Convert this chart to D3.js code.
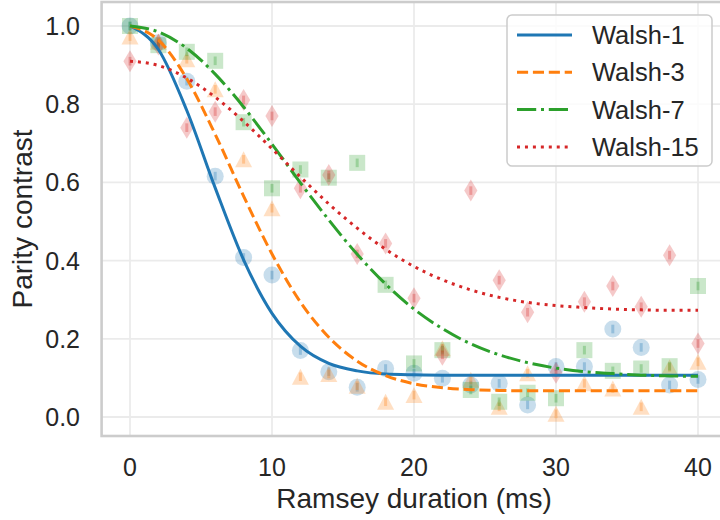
<!doctype html>
<html>
<head>
    <meta charset="utf-8">
    <title>Parity contrast vs Ramsey duration</title>
    <style>
        body {
            margin: 0;
            background: #FFFFFF;
        }

        svg text {
            font-family: "Liberation Sans", Arial, sans-serif;
            fill: #262626;
        }

        .grid line {
            stroke: #EBEBEB;
            stroke-width: 1.8;
        }

        .spine {
            fill: none;
            stroke: #CCCCCC;
            stroke-width: 2.6;
        }
    </style>
</head>
<body>
    <div id="chart"></div>

    <script src="https://cdn.jsdelivr.net/npm/d3@7"></script>
    <script>
        // measured points, one per 2 ms
        var times = [0, 2, 4, 6, 8, 10, 12, 14, 16, 18, 20, 22, 24, 26, 28, 30, 32, 34, 36, 38, 40];

        var walsh1 = [1.000, 0.957, 0.859, 0.616, 0.408, 0.363, 0.170, 0.116, 0.076, 0.124, 0.112,
            0.099, 0.082, 0.086, 0.031, 0.129, 0.129, 0.225, 0.178, 0.082, 0.096];
        var walsh3 = [0.973, 0.960, 0.915, 0.838, 0.659, 0.534, 0.103, 0.110, 0.080, 0.039, 0.056,
            0.176, 0.095, 0.026, 0.112, 0.008, 0.086, 0.073, 0.026, 0.127, 0.141];
        var walsh7 = [1.000, 0.951, 0.934, 0.911, 0.754, 0.585, 0.633, 0.612, 0.650, 0.338, 0.137,
            0.171, 0.069, 0.039, 0.062, 0.048, 0.171, 0.118, 0.124, 0.130, 0.335];
        var walsh15 = [0.910, 0.953, 0.740, 0.781, 0.811, 0.770, 0.585, 0.619, 0.417, 0.444, 0.304,
            0.159, 0.579, 0.350, 0.268, 0.113, 0.295, 0.335, 0.282, 0.414, 0.188];

        var y_err = 0.011;

        // fitted decay curves at the same times
        var fit1 = [1.000, 0.940, 0.784, 0.586, 0.402, 0.265, 0.181, 0.137, 0.118, 0.110, 0.108,
            0.107, 0.107, 0.107, 0.107, 0.107, 0.107, 0.107, 0.107, 0.107, 0.107];
        var fit3 = [1.000, 0.964, 0.865, 0.723, 0.565, 0.417, 0.294, 0.204, 0.143, 0.106, 0.085,
            0.075, 0.070, 0.068, 0.067, 0.067, 0.067, 0.067, 0.067, 0.067, 0.067];
        var fit7 = [1.000, 0.985, 0.943, 0.877, 0.793, 0.698, 0.599, 0.504, 0.416, 0.340, 0.276,
            0.226, 0.187, 0.159, 0.139, 0.125, 0.116, 0.111, 0.107, 0.105, 0.104];
        var fit15 = [0.910, 0.899, 0.867, 0.818, 0.756, 0.686, 0.614, 0.545, 0.483, 0.429, 0.385,
            0.351, 0.325, 0.306, 0.293, 0.285, 0.280, 0.276, 0.274, 0.273, 0.273];

        var series_names = ['Walsh-1', 'Walsh-3', 'Walsh-7', 'Walsh-15'];
        var x_ticks = [0, 10, 20, 30, 40];
        var y_ticks = [0.0, 0.2, 0.4, 0.6, 0.8, 1.0];

        var colors = ['#1F77B4', '#FF7F0E', '#2CA02C', '#D62728'];
        var dashes = [null, '11.1,4.8', '19.2,4.8,3,4.8', '3,4.95'];
        var shapes = ['circle', 'triangle', 'square', 'diamond'];

        var svg_width = 720;
        var svg_height = 520;

        var svg = d3.select('#chart').append('svg')
            .attr('width', svg_width)
            .attr('height', svg_height);

        var x = d3.scaleLinear().domain([-2, 42]).range([101.6, 726.4]);
        var y = d3.scaleLinear().domain([-0.0486, 1.0614]).range([436, 2]);

        var points = [walsh1, walsh3, walsh7, walsh15];
        var fits = [fit1, fit3, fit7, fit15];

        drawGrid();
        drawMarkers();
        drawCurves();
        drawFrame();
        drawLegend();

        function drawGrid() {
            var grid = svg.append('g').attr('class', 'grid');

            grid.selectAll('line.v')
                .data(x_ticks)
              .enter().append('line')
                .attr('class', 'v')
                .attr('x1', function(d) { return x(d); })
                .attr('x2', function(d) { return x(d); })
                .attr('y1', y.range()[0])
                .attr('y2', y.range()[1]);

            grid.selectAll('line.h')
                .data(y_ticks)
              .enter().append('line')
                .attr('class', 'h')
                .attr('x1', x.range()[0])
                .attr('x2', x.range()[1])
                .attr('y1', function(d) { return y(d); })
                .attr('y2', function(d) { return y(d); });
        }

        function markerPath(shape) {
            if (shape === 'triangle') {
                return 'M0,-8L8.5,8L-8.5,8Z';
            } else if (shape === 'square') {
                return 'M-8,-8H8V8H-8Z';
            } else if (shape === 'diamond') {
                return 'M0,-11L6.6,0L0,11L-6.6,0Z';
            }
            return 'M8.5,0A8.5,8.5,0,1,1,-8.5,0A8.5,8.5,0,1,1,8.5,0Z';
        }

        function drawMarkers() {
            points.forEach(function(values, s) {
                var g = svg.append('g').attr('class', 'markers');

                var rows = values.map(function(v, i) {
                    return { t: times[i], v: v };
                });

                g.selectAll('path')
                    .data(rows)
                  .enter().append('path')
                    .attr('d', markerPath(shapes[s]))
                    .attr('transform', function(d) {
                        return 'translate(' + x(d.t) + ',' + y(d.v) + ')';
                    })
                    .attr('fill', colors[s])
                    .attr('fill-opacity', 0.25);

                // error bars
                g.selectAll('line')
                    .data(rows)
                  .enter().append('line')
                    .attr('x1', function(d) { return x(d.t); })
                    .attr('x2', function(d) { return x(d.t); })
                    .attr('y1', function(d) { return y(d.v - y_err); })
                    .attr('y2', function(d) { return y(d.v + y_err); })
                    .attr('stroke', colors[s])
                    .attr('stroke-width', 3)
                    .attr('stroke-opacity', 0.3);
            });
        }

        function drawCurves() {
            var line = d3.line()
                .x(function(d, i) { return x(times[i]); })
                .y(function(d) { return y(d); })
                .curve(d3.curveMonotoneX);

            fits.forEach(function(values, s) {
                svg.append('path')
                    .attr('d', line(values))
                    .attr('fill', 'none')
                    .attr('stroke', colors[s])
                    .attr('stroke-width', 3)
                    .attr('stroke-dasharray', dashes[s]);
            });
        }

        function drawFrame() {
            svg.append('rect')
                .attr('class', 'spine')
                .attr('x', x.range()[0])
                .attr('y', y.range()[1])
                .attr('width', x.range()[1] - x.range()[0])
                .attr('height', y.range()[0] - y.range()[1]);

            svg.selectAll('text.xtick')
                .data(x_ticks)
              .enter().append('text')
                .attr('class', 'xtick')
                .attr('x', function(d) { return x(d); })
                .attr('y', 476)
                .attr('text-anchor', 'middle')
                .style('font-size', '25px')
                .text(function(d) { return d; });

            svg.selectAll('text.ytick')
                .data(y_ticks)
              .enter().append('text')
                .attr('class', 'ytick')
                .attr('x', 80)
                .attr('y', function(d) { return y(d); })
                .attr('dy', '0.36em')
                .attr('text-anchor', 'end')
                .style('font-size', '25px')
                .text(function(d) { return d3.format('.1f')(d); });

            svg.append('text')
                .attr('x', (x(0) + x(40)) / 2)
                .attr('y', 508)
                .attr('text-anchor', 'middle')
                .style('font-size', '28px')
                .text('Ramsey duration (ms)');

            svg.append('text')
                .attr('transform', 'translate(32,' + (y.range()[0] + y.range()[1]) / 2 + ') rotate(-90)')
                .attr('text-anchor', 'middle')
                .style('font-size', '28px')
                .text('Parity contrast');
        }

        function drawLegend() {
            var legend = svg.append('g').attr('class', 'legend');

            legend.append('rect')
                .attr('x', 507)
                .attr('y', 15)
                .attr('width', 205)
                .attr('height', 151)
                .attr('rx', 5)
                .attr('fill', '#FFFFFF')
                .attr('fill-opacity', 0.8)
                .attr('stroke', '#CCCCCC')
                .attr('stroke-width', 1.5);

            var rows = legend.selectAll('g.entry')
                .data(series_names)
              .enter().append('g')
                .attr('class', 'entry')
                .attr('transform', function(d, i) {
                    return 'translate(0,' + (35 + i * 37.3) + ')';
                });

            rows.append('line')
                .attr('x1', 517)
                .attr('x2', 572)
                .attr('stroke', function(d, i) { return colors[i]; })
                .attr('stroke-width', 3)
                .attr('stroke-dasharray', function(d, i) { return dashes[i]; });

            rows.append('text')
                .attr('x', 592)
                .attr('dy', '0.36em')
                .style('font-size', '25.5px')
                .text(function(d) { return d; });
        }
    </script>
</body>
</html>
